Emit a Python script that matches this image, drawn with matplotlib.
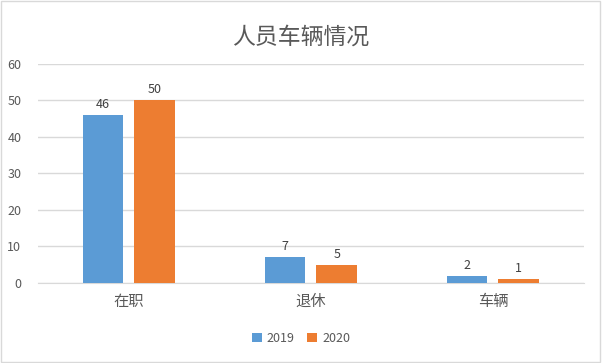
import matplotlib
matplotlib.use("Agg")
import matplotlib.pyplot as plt
import numpy as np

plt.rcParams['font.family'] = ['Noto Sans CJK SC', 'DejaVu Sans']

# data
categories = ["在职", "退休", "车辆"]
series_names = ["2019", "2020"]
values_2019 = [46, 7, 2]
values_2020 = [50, 5, 1]

blue = "#5B9BD5"
orange = "#ED7D31"
text_grey = "#595959"

fig = plt.figure(figsize=(6.02, 3.63), dpi=100)
ax = fig.add_axes([0.063, 0.2204, 0.907, 0.6033])

x = np.arange(len(categories))
w = 0.225
off = w / 2 + 0.03
b1 = ax.bar(x - off, values_2019, w, color=blue, label=series_names[0], zorder=3)
b2 = ax.bar(x + off, values_2020, w, color=orange, label=series_names[1], zorder=3)

for bars in (b1, b2):
    ax.bar_label(bars, padding=3, fontsize=9, color="#404040")

ax.set_xlim(-0.5, 2.5)
ax.set_ylim(0, 60)
ax.set_yticks(range(0, 61, 10))
ax.yaxis.grid(True, color="#D9D9D9", linewidth=1, zorder=0)
ax.set_xticks(x)
ax.set_xticklabels(categories, fontsize=11, color=text_grey)
ax.tick_params(axis="y", labelsize=9, labelcolor=text_grey, length=0, pad=12)
ax.tick_params(axis="x", length=0, pad=7)
for s in ["top", "right", "left"]:
    ax.spines[s].set_visible(False)
ax.spines["bottom"].set_color("#D9D9D9")

fig.suptitle("人员车辆情况", y=0.93, fontsize=16.5, color=text_grey, fontweight="light")

fig.legend(loc="center", bbox_to_anchor=(0.5, 0.068), ncol=2, frameon=False,
           fontsize=9, handlelength=0.8, handleheight=0.8, handletextpad=0.4,
           columnspacing=1.0, labelcolor=text_grey)

# light border round the figure
fig.patches.append(plt.Rectangle((0.002, 0.003), 0.995, 0.994, transform=fig.transFigure,
                                 fill=False, edgecolor="#D9D9D9", linewidth=1))

fig.savefig("out.png", dpi=100)
